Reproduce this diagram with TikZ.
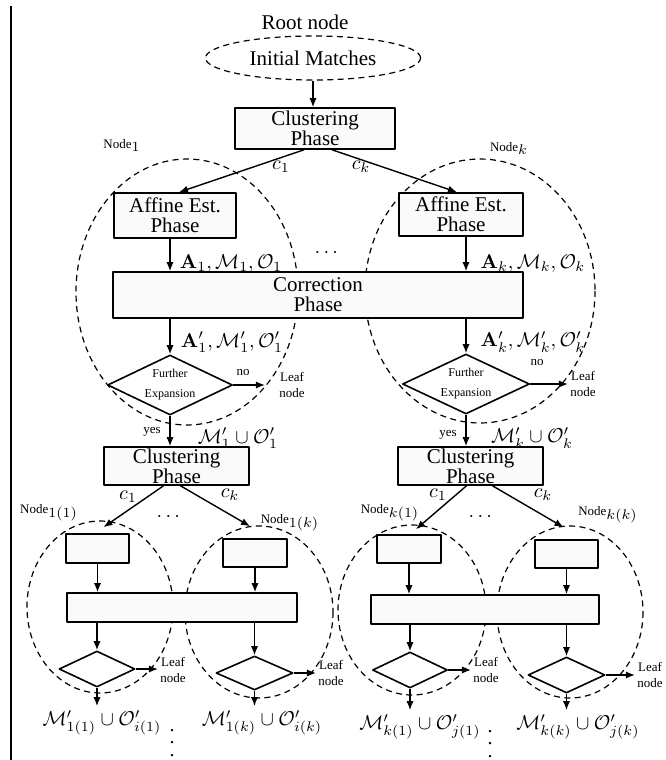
\documentclass[tikz,border=0pt]{standalone}
\usepackage{amsmath,amssymb}
\usepackage[no-math]{fontspec}
\setmainfont{Liberation Serif}
\usepackage{tikz}
\usetikzlibrary{arrows.meta,shapes.geometric}
\newcommand{\nodelab}[1]{{\fontsize{6.5}{8}\selectfont Node}$_{#1}$}

\begin{document}
\begin{tikzpicture}[x=0.5pt,y=-0.5pt,line join=round,
  >={Latex[length=4.5pt,width=3.6pt]},
  flow/.style={->,line width=0.7pt},
  box/.style={draw,line width=0.8pt,fill=black!2,inner sep=0pt,align=center,
    font=\fontsize{10.5}{10}\selectfont},
  ask/.style={draw,diamond,aspect=2,line width=0.8pt,inner sep=0pt,align=center,
    font=\fontsize{6}{10}\selectfont},
  grp/.style={line width=0.6pt,dash pattern=on 3pt off 2.2pt},
  tag/.style={font=\fontsize{6.5}{8}\selectfont,align=center,inner sep=1pt},
  lbl/.style={font=\fontsize{10}{12}\selectfont,inner sep=0pt},
  vdot/.style={font=\fontsize{10}{6.2}\selectfont,align=center,inner sep=0pt}]
 \useasboundingbox (0,0) rectangle (665,760);
 \draw[line width=0.8pt] (11,6) -- (11,760);
 % root and first split
 \node[lbl,font=\fontsize{10.5}{12}\selectfont] (root) at (305,22) {Root node};
 \node[ellipse,draw,grp,minimum width=107.5pt,minimum height=22pt,inner sep=0pt,
   font=\fontsize{10.5}{12}\selectfont] (init) at (313,58) {Initial Matches};
 \node[box,minimum width=80pt,minimum height=20.5pt] (clu) at (315,128.5) {Clustering\\Phase};
 \draw[flow] (init.south) -- (init.south |- clu.north);
 \draw[grp] (187,292) ellipse (111 and 133);
 \draw[grp] (480,291) ellipse (115 and 132);
 \node (node1) at (122,145) {\nodelab{1}};
 \node (nodek) at (509,148) {\nodelab{k}};
 \node[box,minimum width=61pt,minimum height=22.5pt] (aff1) at (175,215.5) {Affine Est.\\Phase};
 \node[box,minimum width=62pt,minimum height=21.5pt] (affk) at (461,214.5) {Affine Est.\\Phase};
 \node[box,minimum width=205pt,minimum height=23pt] (cor) at (318,295) {Correction\\Phase};
 \node[ask,minimum width=62.5pt,minimum height=30pt] (fe1) at (170,385) {Further\\Expansion};
 \node[ask,minimum width=63.5pt,minimum height=30pt] (fek) at (466,384) {Further\\Expansion};
 \draw[flow] ([xshift=-5.5pt]clu.south) -- ([xshift=2pt]aff1.north);
 \draw[flow] ([xshift=8.5pt]clu.south) -- ([xshift=-2pt]affk.north);
 \node[lbl] (c1) at (281,167) {$c_1$};
 \node[lbl] (ck) at (361,167) {$c_k$};
 \foreach \f/\a in {fe1/aff1,fek/affk}{
  \draw[flow] (\f.north |- \a.south) -- (\f.north |- cor.north);
  \draw[flow] (\f.north |- cor.south) -- (\f.north);}
 \node[lbl] (dots0) at (328,253) {$\cdots$};
 \node[lbl] (set1) at (231,264) {$\mathbf{A}_1,\mathcal{M}_1,\mathcal{O}_1$};
 \node[lbl] (setk) at (533,264) {$\mathbf{A}_k,\mathcal{M}_k,\mathcal{O}_k$};
 \node[lbl] (upd1) at (232,342) {$\mathbf{A}'_1,\mathcal{M}'_1,\mathcal{O}'_1$};
 \node[lbl] (updk) at (533,342) {$\mathbf{A}'_k,\mathcal{M}'_k,\mathcal{O}'_k$};
 \node[tag] (no1) at (243,372) {no};
 \node[tag] (nok) at (537,362) {no};
 \node[tag] (leaf1) at (292,385) {Leaf\\node};
 \node[tag] (leafk) at (583,384) {Leaf\\node};
 \draw[flow,shorten >=6pt] (fe1.east) -- (fe1.east -| leaf1.west);
 \draw[flow] (fek.east) -- (fek.east -| leafk.west);
 % second split
 \node[tag] (yes1) at (152,432) {yes};
 \node[tag] (yesk) at (448,435) {yes};
 \node[lbl] (rest1) at (238,438) {$\mathcal{M}'_1\cup\mathcal{O}'_1$};
 \node[lbl] (restk) at (532,438) {$\mathcal{M}'_k\cup\mathcal{O}'_k$};
 \node[box,minimum width=72.5pt,minimum height=19pt] (clu1) at (176.5,466) {Clustering\\Phase};
 \node[box,minimum width=72.5pt,minimum height=19pt] (cluk) at (470.5,466) {Clustering\\Phase};
 \draw[flow] (fe1.south) -- (fe1.south |- clu1.north);
 \draw[flow] (fek.south) -- (fek.south |- cluk.north);
 \node[lbl] (c11) at (128,497) {$c_1$};
 \node[lbl] (c1k) at (230,495) {$c_k$};
 \node[lbl] (ck1) at (438,495) {$c_1$};
 \node[lbl] (ckk) at (543,495) {$c_k$};
 \node[lbl] (dots1) at (170,517) {$\cdots$};
 \node[lbl] (dotsk) at (482,517) {$\cdots$};
 \node (n11) at (49,513) {\nodelab{1(1)}};
 \node (n1k) at (290,523) {\nodelab{1(k)}};
 \node (nk1) at (390,513) {\nodelab{k(1)}};
 \node (nkk) at (608,515) {\nodelab{k(k)}};
 \draw[grp] (100,607) ellipse (73 and 86);
 \draw[grp] (259,612) ellipse (74 and 86);
 \draw[grp] (412,610) ellipse (74 and 85);
 \draw[grp] (570,612) ellipse (73 and 86);
 \node[box,minimum width=31.5pt,minimum height=14.5pt] (b11) at (97.5,548.5) {};
 \node[box,minimum width=32pt,minimum height=14pt] (b1k) at (255,553) {};
 \node[box,minimum width=32pt,minimum height=14pt] (bk1) at (409,549) {};
 \node[box,minimum width=31.5pt,minimum height=14pt] (bkk) at (566.5,554) {};
 \draw[flow] ([xshift=-6.5pt]clu1.south) -- ([xshift=3pt,yshift=3pt]b11.north);
 \draw[flow] ([xshift=2pt]clu1.south) -- ([xshift=-2.5pt,yshift=6pt]b1k.north);
 \draw[flow] ([xshift=-2pt]cluk.south) -- ([xshift=3.5pt,yshift=2.5pt]bk1.north);
 \draw[flow] ([xshift=11pt]cluk.south) -- ([xshift=-1.5pt,yshift=6pt]bkk.north);
 \node[box,minimum width=115pt,minimum height=14.5pt] (w1) at (182,607.5) {};
 \node[box,minimum width=114pt,minimum height=14.5pt] (wk) at (485,609.5) {};
 \node[ask,minimum width=38pt,minimum height=18pt] (s11) at (97,669) {};
 \node[ask,minimum width=38.5pt,minimum height=17pt] (s1k) at (254.5,673) {};
 \node[ask,minimum width=37.5pt,minimum height=18pt] (sk1) at (410,670) {};
 \node[ask,minimum width=38.5pt,minimum height=18pt] (skk) at (566.5,675) {};
 \node[tag] (leaf11) at (173,670) {Leaf\\node};
 \node[tag] (leaf1k) at (331,673) {Leaf\\node};
 \node[tag] (leafk1) at (486,670) {Leaf\\node};
 \node[tag] (leafkk) at (650,675) {Leaf\\node};
 \node[lbl] (out11) at (102,723) {$\mathcal{M}'_{1(1)}\cup\mathcal{O}'_{i(1)}$};
 \node[lbl] (out1k) at (262,723) {$\mathcal{M}'_{1(k)}\cup\mathcal{O}'_{i(k)}$};
 \node[lbl] (outk1) at (420,727) {$\mathcal{M}'_{k(1)}\cup\mathcal{O}'_{j(1)}$};
 \node[lbl] (outkk) at (578,727) {$\mathcal{M}'_{k(k)}\cup\mathcal{O}'_{j(k)}$};
 \foreach \b/\w/\s in {b11/w1/s11,b1k/w1/s1k,bk1/wk/sk1,bkk/wk/skk}{
  \draw[flow] (\b.south) -- (\b.south |- \w.north);
  \draw[flow] (\s.north |- \w.south) -- (\s.north);}
 \foreach \s/\l/\o in {s11/leaf11/out11,s1k/leaf1k/out1k,sk1/leafk1/outk1,skk/leafkk/outkk}{
  \draw[flow] (\s.east) -- (\s.east -| \l.west);
  \draw[flow,shorten >=2pt] (\s.south) -- (\s.south |- \o.north);}
 \node[vdot] (vd1) at (172,743) {.\\.\\.};
 \node[vdot] (vdk) at (490,744) {.\\.\\.};
\end{tikzpicture}
\end{document}
